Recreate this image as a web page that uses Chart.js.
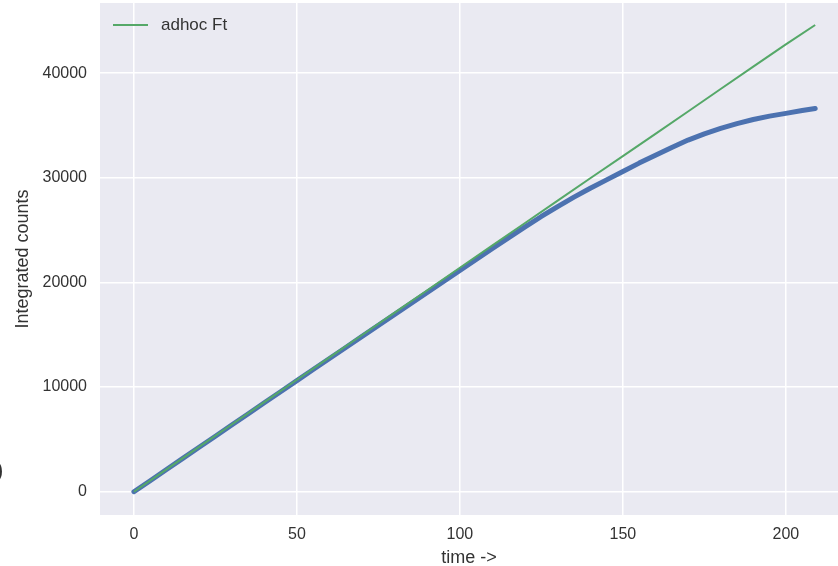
<!DOCTYPE html>
<html>
<head>
<meta charset="utf-8">
<script src="https://cdn.jsdelivr.net/npm/chart.js@4/dist/chart.umd.min.js"></script>
<style>
  html, body { margin: 0; padding: 0; background: #fff; }
  #wrap { width: 838px; height: 566px; }
</style>
</head>
<body>
<div id="wrap"><canvas id="countsChart" width="838" height="566"></canvas></div>
<script>
// fitted curve ("adhoc Ft")
const fitTime = [0, 10, 20, 30, 40, 50, 60, 70, 80, 90, 100, 110, 120, 130, 140, 150, 160, 170, 180, 190, 200, 209];
const fitCounts = [0, 2140, 4280, 6420, 8560, 10700, 12840, 14980, 17110, 19250, 21400, 23540, 25680, 27820, 29950, 32070, 34200, 36330, 38480, 40620, 42750, 44600];

// measured integrated counts (blue dots)
const measTime = [0, 5, 10, 15, 20, 25, 30, 35, 40, 45, 50, 55, 60, 65, 70, 75, 80, 85, 90, 95, 100,
  105, 110, 115, 120, 125, 130, 135, 140, 145, 150, 155, 160, 165, 170, 175, 180, 185, 190, 195, 200, 205, 209];
const measCounts = [0, 1050, 2120, 3180, 4250, 5300, 6370, 7430, 8500, 9550, 10620, 11680, 12730, 13780, 14840, 15890, 16950, 18000, 19050, 20100, 21150,
  22200, 23250, 24280, 25300, 26300, 27250, 28150, 29000, 29800, 30600, 31400, 32150, 32900, 33600, 34200, 34720, 35180, 35570, 35890, 36150, 36420, 36620];

const xTicks = [0, 50, 100, 150, 200];
const yTicks = [0, 10000, 20000, 30000, 40000];

const textColor = '#333333';
const fontFamily = '"Liberation Sans", Arial, sans-serif';
const tickFont = { family: fontFamily, size: 16 };
const titleFont = { family: fontFamily, size: 18 };

// fond gris de la zone de tracé
const plotBackground = {
    id: 'plotBackground',
    beforeDraw(chart) {
        const { ctx, chartArea } = chart;
        ctx.save();
        ctx.fillStyle = '#EAEAF2';
        ctx.fillRect(chartArea.left, chartArea.top, chartArea.right - chartArea.left, chartArea.bottom - chartArea.top);
        ctx.restore();
    }
};

// légende dans le coin haut gauche + le ")" coupé à gauche
const innerLegend = {
    id: 'innerLegend',
    afterDraw(chart) {
        const ctx = chart.ctx;
        const ds = chart.data.datasets[0];
        ctx.save();
        ctx.strokeStyle = ds.borderColor;
        ctx.lineWidth = 2;
        ctx.beginPath();
        ctx.moveTo(113, 25);
        ctx.lineTo(148, 25);
        ctx.stroke();
        ctx.fillStyle = textColor;
        ctx.font = '17px ' + fontFamily;
        ctx.textBaseline = 'middle';
        ctx.fillText(ds.label, 161, 25);
        ctx.font = '22px ' + fontFamily;
        ctx.fillText(')', -4, 471);
        ctx.restore();
    }
};

// pas de marge automatique autour des axes
function noPadding(s) {
    s.paddingTop = 0;
    s.paddingBottom = 0;
    s.paddingLeft = 0;
    s.paddingRight = 0;
}

const ctx = document.getElementById('countsChart').getContext('2d');

new Chart(ctx, {
    type: 'scatter',
    data: {
        datasets: [{
            label: 'adhoc Ft',
            data: fitTime.map((t, i) => ({ x: t, y: fitCounts[i] })),
            showLine: true,
            borderColor: '#55A868',
            borderWidth: 2,
            pointRadius: 0
        }, {
            label: 'data',
            data: measTime.map((t, i) => ({ x: t, y: measCounts[i] })),
            showLine: true,
            borderColor: '#4C72B0',
            backgroundColor: '#4C72B0',
            borderWidth: 5,
            borderCapStyle: 'round',
            borderJoinStyle: 'round',
            pointRadius: 0
        }]
    },
    options: {
        responsive: false,
        animation: false,
        layout: { padding: { top: 3, right: 0, left: 0, bottom: 0 } },
        plugins: {
            legend: { display: false },
            tooltip: { enabled: false }
        },
        scales: {
            x: {
                type: 'linear',
                min: -10.4,
                max: 216,
                afterBuildTicks: s => { s.ticks = xTicks.map(v => ({ value: v })); },
                afterFit: s => { s.height = 51; noPadding(s); },
                grid: { color: '#ffffff', lineWidth: 1.5, drawTicks: false },
                border: { display: false },
                ticks: { color: textColor, font: tickFont, padding: 10, callback: v => String(v) },
                title: { display: true, text: 'time ->', color: textColor, font: titleFont, padding: { top: 0, bottom: -3 } }
            },
            y: {
                type: 'linear',
                min: -2225,
                max: 46700,
                afterBuildTicks: s => { s.ticks = yTicks.map(v => ({ value: v })); },
                afterFit: s => { s.width = 100; noPadding(s); },
                grid: { color: '#ffffff', lineWidth: 1.5, drawTicks: false },
                border: { display: false },
                ticks: { color: textColor, font: tickFont, padding: 13, callback: v => String(v) },
                title: { display: true, text: 'Integrated counts', color: textColor, font: titleFont, padding: { top: 12 } }
            }
        }
    },
    plugins: [plotBackground, innerLegend]
});
</script>
</body>
</html>
